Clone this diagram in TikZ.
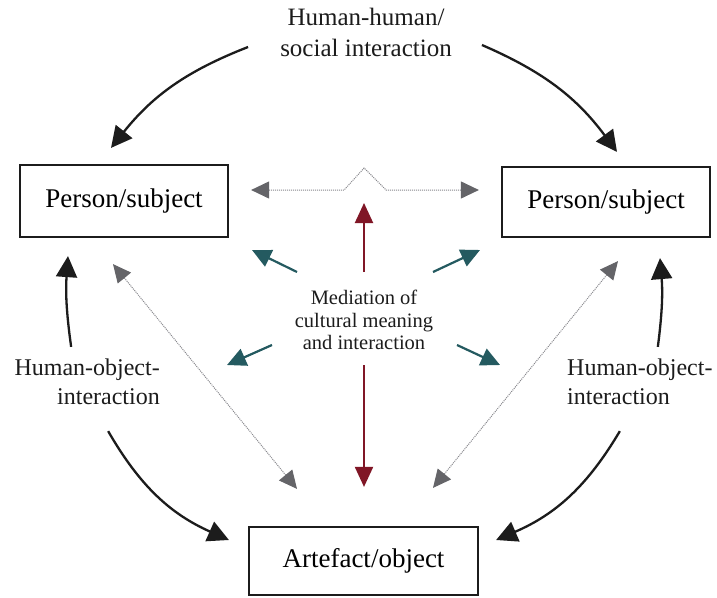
\documentclass[tikz,border=0pt]{standalone}
\usepackage{fontspec}
\setmainfont{Liberation Serif}
\usetikzlibrary{arrows.meta}

\definecolor{inkblack}{RGB}{28,28,28}
\definecolor{tipgrey}{RGB}{100,100,104}
\definecolor{dotgrey}{RGB}{135,135,140}
\definecolor{mediateal}{RGB}{36,90,96}
\definecolor{mediared}{RGB}{128,22,38}

\tikzset{
  box/.style={draw=inkblack, line width=2.2pt, inner sep=0pt,
    font=\fontsize{27}{32}\selectfont},
  label/.style={inner sep=0pt, text=inkblack},
  interact/.style={draw=inkblack, line width=2.3pt,
    -{Triangle[length=21pt,width=21pt]}},
  greytip/.tip={Triangle[length=18pt,width=17pt,color=tipgrey,fill=tipgrey]},
  mediate/.style={draw=dotgrey, line width=1pt, densely dotted,
    greytip-greytip},
  radiate/.style={draw=mediateal, line width=2.2pt,
    -{Triangle[length=19pt,width=18pt]}},
  redarrow/.style={draw=mediared, line width=2pt,
    -{Triangle[length=20pt,width=18pt]}}
}

\begin{document}
\begin{tikzpicture}[x=1pt,y=-1pt]
\useasboundingbox[fill=white] (0,0) rectangle (717,597);

% the three boxes
\node[box, minimum width=208pt, minimum height=72pt] (lb) at (124,201) {Person/subject};
\node[box, minimum width=208pt, minimum height=70pt] (rb) at (606,202) {Person/subject};
\node[box, minimum width=229pt, minimum height=68pt] (ab) at (363.5,561) {Artefact/object};

% labels
\node[label, align=center, font=\fontsize{25}{31}\selectfont] (top) at (366,32)
  {Human-human/\\social interaction};
\node[label, align=right, anchor=east, font=\fontsize{24}{29}\selectfont] (lt) at (160,382)
  {Human-object-\\interaction};
\node[label, align=left, anchor=west, font=\fontsize{24}{29}\selectfont] (rt) at (567,382)
  {Human-object-\\interaction};
\node[label, align=center, font=\fontsize{20.5}{22.5}\selectfont] (mid) at (364,320)
  {Mediation of\\cultural meaning\\and interaction};

% human-human interaction
\draw[interact] ([shift={(-32,15)}]top.west) to[bend right=15] ([shift={(-13,-16)}]lb.north);
\draw[interact] ([shift={(30,13)}]top.east) to[bend left=15] ([shift={(11,-14)}]rb.north);

% human-object interaction
\draw[interact] ([shift={(-16,-12)}]lt.north) to[bend left=6] ([shift={(-56,18)}]lb.south);
\draw[interact] ([shift={(18,-12)}]rt.north) to[bend right=6] ([shift={(54,20)}]rb.south);
\draw[interact] ([shift={(21,26)}]lt.south) to[bend right=18] ([shift={(-19,-21)}]ab.west);
\draw[interact] ([shift={(-20,26)}]rt.south) to[bend left=18] ([shift={(17,-21)}]ab.east);

% mediated relations
\draw[mediate] ([shift={(-11,26)}]lb.south) -- ([shift={(-66.5,-37)}]ab.north);
\draw[mediate] ([shift={(12,23)}]rb.south) -- ([shift={(69.5,-38)}]ab.north);
\draw[mediate] ([shift={(22,-11)}]lb.east) -- ++(93,0) -- ++(20,-22) -- ++(22,22)
  -- ([shift={(-22,-12)}]rb.west);

% red vertical arrows
\draw[redarrow] ([shift={(0,-48)}]mid.center) -- ([shift={(0,-117)}]mid.center);
\draw[redarrow] ([shift={(0,45)}]mid.center) -- ([shift={(0.5,-39)}]ab.north);

% radiating teal arrows
\draw[radiate] ([shift={(-67,-48)}]mid.center) -- ([shift={(-112,-70)}]mid.center);
\draw[radiate] ([shift={(69,-48)}]mid.center) -- ([shift={(116,-70)}]mid.center);
\draw[radiate] ([shift={(-92,25)}]mid.center) -- ([shift={(-137,45)}]mid.center);
\draw[radiate] ([shift={(93,25)}]mid.center) -- ([shift={(136,45)}]mid.center);
\end{tikzpicture}
\end{document}
